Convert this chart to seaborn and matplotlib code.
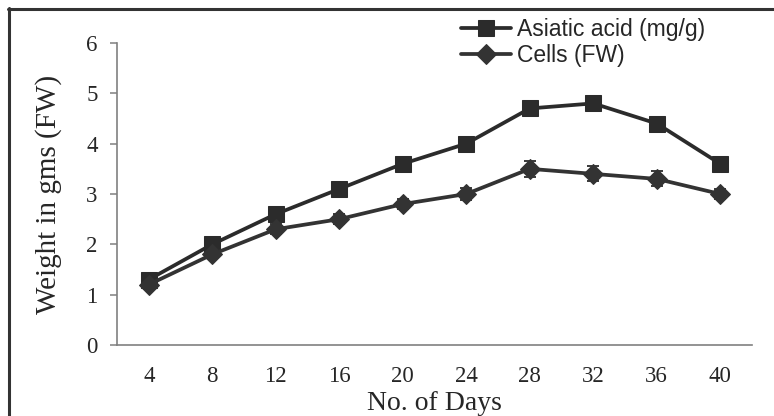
import numpy as np
import pandas as pd
import seaborn as sns
import matplotlib.pyplot as plt
from matplotlib.lines import Line2D

# data
days = [4, 8, 12, 16, 20, 24, 28, 32, 36, 40]
asiatic = [1.3, 2.0, 2.6, 3.1, 3.6, 4.0, 4.7, 4.8, 4.4, 3.6]
cells = [1.2, 1.8, 2.3, 2.5, 2.8, 3.0, 3.5, 3.4, 3.3, 3.0]
cells_err = [0.08, 0.08, 0.1, 0.1, 0.1, 0.12, 0.16, 0.15, 0.15, 0.1]

sns.set_style("white")
plt.rcParams["font.family"] = ["Liberation Serif", "DejaVu Serif"]

df = pd.DataFrame({"pos": np.arange(len(days)), "day": days,
                   "Asiatic acid (mg/g)": asiatic, "Cells (FW)": cells})

fig = plt.figure(figsize=(7.74, 4.16), dpi=100)
ax = fig.add_axes([117 / 774, 1 - 345 / 416, 635 / 774, 302 / 416])

dark = "#2b2b2b"
sns.lineplot(data=df, x="pos", y="Asiatic acid (mg/g)", ax=ax, color=dark,
             lw=2.7, marker="s", markersize=11.5, markeredgecolor=dark,
             label="Asiatic acid (mg/g)")
ax.errorbar(df["pos"], df["Cells (FW)"], yerr=cells_err, fmt="none",
            ecolor=dark, elinewidth=1.3, capsize=4.5, capthick=1.3)
sns.lineplot(data=df, x="pos", y="Cells (FW)", ax=ax, color="#333333",
             lw=2.7, marker="D", markersize=10, markeredgecolor="#333333",
             label="Cells (FW)")

ax.set_xlim(-0.5, len(days) - 0.5)
ax.set_ylim(0, 6)
ax.set_yticks(range(0, 7))
ax.set_xticks(np.arange(len(days)))
ax.set_xticklabels([str(d) for d in days])
ax.set_xticks(np.arange(-0.5, len(days)), minor=True)
ax.tick_params(axis="x", which="major", length=0, pad=15, labelsize=16.5)
ax.tick_params(axis="x", which="minor", length=6, width=1.1, color="#808080",
               direction="out")
ax.tick_params(axis="y", length=5, width=1.1, color="#808080", direction="out",
               left=True, pad=9, labelsize=16.5)
for s in ["top", "right"]:
    ax.spines[s].set_visible(False)
for s in ["left", "bottom"]:
    ax.spines[s].set_color("#808080")
    ax.spines[s].set_linewidth(1.2)

ax.set_xlabel("No. of Days", fontsize=20, labelpad=3)
ax.set_ylabel("Weight in gms (FW)", fontsize=21, labelpad=17)

leg = ax.legend(loc="upper left", bbox_to_anchor=(447 / 774, 1 - 4 / 416),
                bbox_transform=fig.transFigure, frameon=True, fancybox=False,
                framealpha=1, edgecolor="white", handlelength=2.2,
                handletextpad=0.25, labelspacing=0.15, borderpad=0.1,
                prop={"family": "Liberation Sans", "size": 16.5})

# frame around the picture
fig.add_artist(Line2D([8 / 774, 1], [1 - 8.5 / 416] * 2, color="#333333",
                      lw=2.2, transform=fig.transFigure))
fig.add_artist(Line2D([9 / 774] * 2, [0, 1 - 8 / 416], color="#333333",
                      lw=2.2, transform=fig.transFigure))

fig.savefig("out.png", dpi=100)
